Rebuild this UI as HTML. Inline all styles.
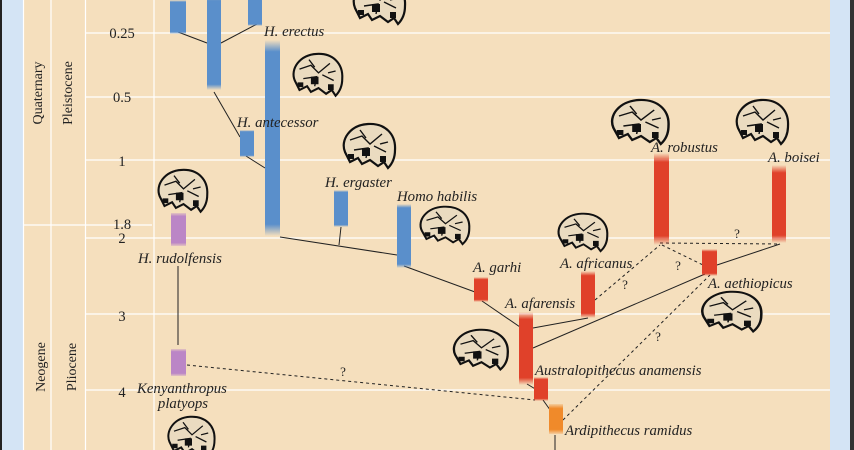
<!DOCTYPE html>
<html><head><meta charset="utf-8"><style>
html,body{margin:0;padding:0;background:#f5dfbd;}
svg{display:block}
text{font-family:"Liberation Serif",serif;fill:#222;}
.i{font-style:italic;font-size:14.8px}
.n{font-size:14.5px}
</style></head><body>
<svg width="854" height="450" viewBox="0 0 854 450" xmlns="http://www.w3.org/2000/svg">
<defs>
<linearGradient id="gb" x1="0" y1="0" x2="0" y2="1"><stop offset="0" stop-color="#5a8fcb" stop-opacity="0"/><stop offset="0.06" stop-color="#5a8fcb"/><stop offset="0.94" stop-color="#5a8fcb"/><stop offset="1" stop-color="#5a8fcb" stop-opacity="0"/></linearGradient>
<linearGradient id="gr" x1="0" y1="0" x2="0" y2="1"><stop offset="0" stop-color="#e0412a" stop-opacity="0"/><stop offset="0.1" stop-color="#e0412a"/><stop offset="0.9" stop-color="#e0412a"/><stop offset="1" stop-color="#e0412a" stop-opacity="0"/></linearGradient>
<linearGradient id="gp" x1="0" y1="0" x2="0" y2="1"><stop offset="0" stop-color="#bb86c6" stop-opacity="0.3"/><stop offset="0.1" stop-color="#bb86c6"/><stop offset="0.9" stop-color="#bb86c6"/><stop offset="1" stop-color="#bb86c6" stop-opacity="0.3"/></linearGradient>
<linearGradient id="go" x1="0" y1="0" x2="0" y2="1"><stop offset="0" stop-color="#f08a2a" stop-opacity="0.2"/><stop offset="0.15" stop-color="#f08a2a"/><stop offset="0.85" stop-color="#f08a2a"/><stop offset="1" stop-color="#f08a2a" stop-opacity="0.2"/></linearGradient>
<g id="sk"><path d="M5 30 C0 18 10 3 28 2 C45 1 56 12 55 28 C55 36 52 42 48 46 L44 40 L38 44 L30 38 L22 42 L18 36 L10 40 Z" fill="#eadbc0" stroke="#111" stroke-width="2.2"/><path d="M10 18 L22 14 L30 22 L42 12 M14 28 L28 26 L26 36 M34 24 L46 30 M20 8 L26 16 M40 22 L48 20" fill="none" stroke="#111" stroke-width="1.4"/><path d="M22 26 h8 v8 h-8z M40 34 h6 v6 h-6z M8 32 h6 v5 h-6z" fill="#111"/></g>
</defs>
<rect x="0" y="0" width="854" height="450" fill="#f5dfbd"/>
<rect x="0" y="0" width="23" height="450" fill="#d4e4f5"/>
<rect x="0" y="0" width="2" height="450" fill="#222"/>
<rect x="830" y="0" width="20" height="450" fill="#d4e4f5"/>
<rect x="850" y="0" width="4" height="450" fill="#333"/>
<g stroke="#fff" stroke-width="1.2">
<line x1="23.5" y1="0" x2="23.5" y2="450"/><line x1="51" y1="0" x2="51" y2="450"/><line x1="85.5" y1="0" x2="85.5" y2="450"/><line x1="154" y1="0" x2="154" y2="450"/>
<line x1="85" y1="33" x2="830" y2="33"/><line x1="85" y1="97" x2="830" y2="97"/><line x1="85" y1="160" x2="830" y2="160"/>
<line x1="23" y1="225" x2="152" y2="225"/><line x1="85" y1="238" x2="830" y2="238"/><line x1="85" y1="314" x2="830" y2="314"/><line x1="85" y1="390" x2="830" y2="390"/>
</g>
<g fill="#222">
<text x="42" y="93" font-size="14" transform="rotate(-90 42 93)" text-anchor="middle">Quaternary</text>
<text x="72" y="93" font-size="14" transform="rotate(-90 72 93)" text-anchor="middle">Pleistocene</text>
<text x="45" y="367" font-size="14" transform="rotate(-90 45 367)" text-anchor="middle">Neogene</text>
<text x="76" y="367" font-size="14" transform="rotate(-90 76 367)" text-anchor="middle">Pliocene</text>
</g>
<g text-anchor="middle">
<text x="122" y="38" class="n">0.25</text><text x="122" y="102" class="n">0.5</text><text x="122" y="166" class="n">1</text>
<text x="122" y="229" class="n">1.8</text><text x="122" y="243" class="n">2</text><text x="122" y="321" class="n">3</text><text x="122" y="397" class="n">4</text>
</g>
<g stroke="#222" stroke-width="1" fill="none">
<line x1="178" y1="32" x2="207" y2="43"/><line x1="221" y1="43" x2="257" y2="24"/>
<line x1="214" y1="92" x2="240" y2="137"/><line x1="246" y1="156" x2="265" y2="168"/>
<line x1="280" y1="237" x2="397" y2="255"/><line x1="341" y1="227" x2="339" y2="245"/>
<line x1="404" y1="266" x2="475" y2="292"/><line x1="482" y1="301" x2="520" y2="327"/>
<line x1="533" y1="328" x2="588" y2="318"/><line x1="533" y1="348" x2="705" y2="274"/>
<line x1="717" y1="265" x2="780" y2="244"/><line x1="178" y1="266" x2="178" y2="345"/>
<line x1="527" y1="384" x2="537" y2="390"/><line x1="543" y1="400" x2="553" y2="414"/><line x1="555" y1="435" x2="555" y2="450"/>
</g>
<g stroke="#222" stroke-width="1" fill="none" stroke-dasharray="3,3">
<line x1="187" y1="365" x2="535" y2="400"/><line x1="595" y1="300" x2="660" y2="245"/>
<line x1="660" y1="243" x2="780" y2="244"/><line x1="662" y1="245" x2="703" y2="265"/>
<line x1="563" y1="420" x2="710" y2="275"/>
</g>
<g font-size="13" text-anchor="middle"><text x="343" y="376">?</text><text x="625" y="289">?</text><text x="678" y="270">?</text><text x="737" y="238">?</text><text x="658" y="341">?</text></g>
<rect x="170" y="0" width="16" height="34" fill="url(#gb)"/>
<rect x="207" y="-5" width="14" height="95" fill="url(#gb)"/>
<rect x="248" y="-5" width="14" height="31" fill="url(#gb)"/>
<rect x="265" y="40" width="15" height="196" fill="url(#gb)"/>
<rect x="240" y="130" width="14" height="27" fill="url(#gb)"/>
<rect x="334" y="190" width="14" height="37" fill="url(#gb)"/>
<rect x="397" y="204" width="14" height="64" fill="url(#gb)"/>
<rect x="171" y="213" width="15" height="33" fill="url(#gp)"/>
<rect x="171" y="349" width="15" height="27" fill="url(#gp)"/>
<rect x="474" y="277" width="14" height="25" fill="url(#gr)"/>
<rect x="581" y="271" width="14" height="47" fill="url(#gr)"/>
<rect x="519" y="312" width="14" height="73" fill="url(#gr)"/>
<rect x="534" y="377" width="14" height="24" fill="url(#gr)"/>
<rect x="654" y="153" width="15" height="92" fill="url(#gr)"/>
<rect x="772" y="165" width="14" height="78" fill="url(#gr)"/>
<rect x="702" y="249" width="15" height="27" fill="url(#gr)"/>
<rect x="549" y="404" width="14" height="30" fill="url(#go)"/>
<g class="i">
<text x="264" y="36">H. erectus</text><text x="237" y="127">H. antecessor</text><text x="325" y="187">H. ergaster</text>
<text x="397" y="201">Homo habilis</text><text x="138" y="263">H. rudolfensis</text><text x="137" y="393">Kenyanthropus</text><text x="183" y="408" text-anchor="middle">platyops</text>
<text x="473" y="272">A. garhi</text><text x="560" y="268">A. africanus</text><text x="505" y="308">A. afarensis</text>
<text x="535" y="375">Australopithecus anamensis</text><text x="565" y="435">Ardipithecus ramidus</text>
<text x="651" y="152">A. robustus</text><text x="768" y="162">A. boisei</text><text x="708" y="288">A. aethiopicus</text>
</g>
<use href="#sk" transform="translate(350,-22)"/>
<use href="#sk" transform="translate(290,52) scale(0.95)"/>
<use href="#sk" transform="translate(340,122)"/>
<use href="#sk" transform="translate(155,168) scale(0.95)"/>
<use href="#sk" transform="translate(417,205) scale(0.95,0.85)"/>
<use href="#sk" transform="translate(555,212) scale(0.95,0.85)"/>
<use href="#sk" transform="translate(608,98) scale(1.1,1)"/>
<use href="#sk" transform="translate(733,98)"/>
<use href="#sk" transform="translate(698,290) scale(1.15,0.9)"/>
<use href="#sk" transform="translate(450,328) scale(1.05,0.9)"/>
<use href="#sk" transform="translate(165,415) scale(0.9)"/>
</svg>
</body></html>
